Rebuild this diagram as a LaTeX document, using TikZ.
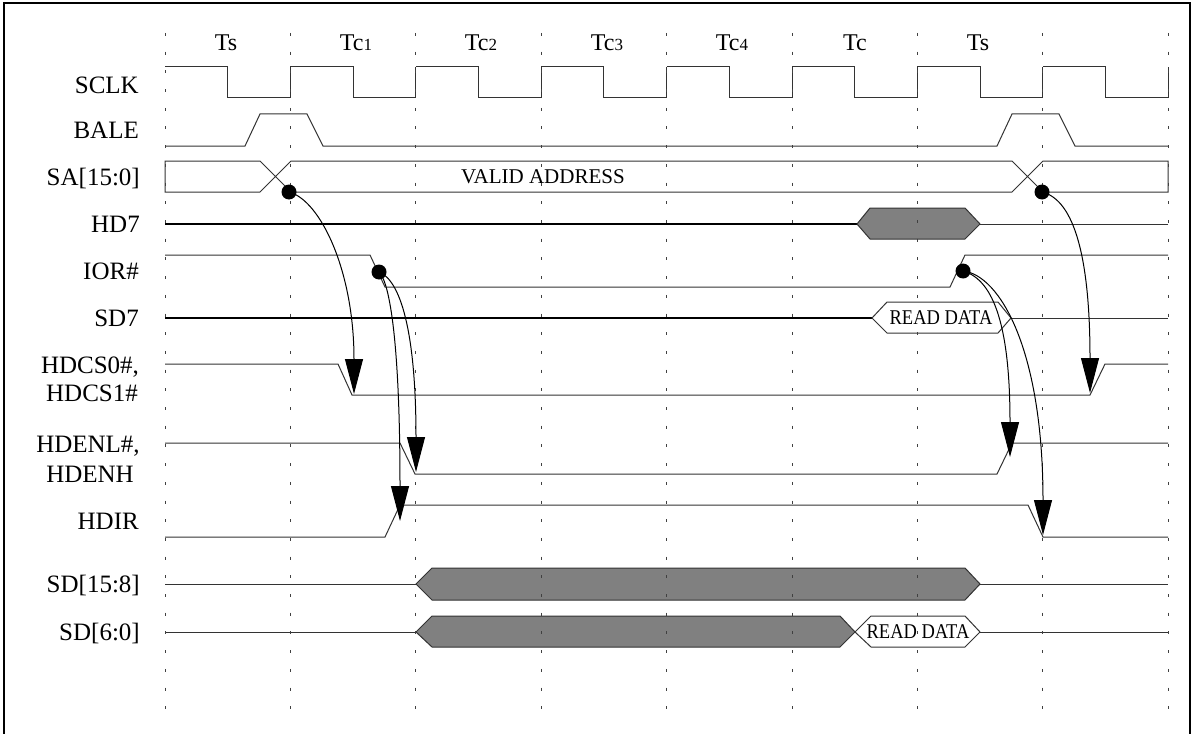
\documentclass[tikz,border=0pt]{standalone}
\usepackage{fontspec}
\setmainfont{Liberation Serif}
\usetikzlibrary{arrows.meta}
\begin{document}
\begin{tikzpicture}[x=1pt,y=-1pt,
  sig/.style={line width=1pt, draw=black!80, line join=miter},
  busthick/.style={line width=2pt, draw=black},
  gridln/.style={draw=black!75, line width=1pt, dash pattern=on 3pt off 15.7pt},
  lbl/.style={anchor=base east, font=\fontsize{25}{28}\selectfont, inner sep=0pt},
  lblc/.style={anchor=base, font=\fontsize{25}{28}\selectfont, inner sep=0pt},
  tlbl/.style={anchor=base, font=\fontsize{24}{26}\selectfont, inner sep=0pt},
  dotn/.style={circle, fill=black, inner sep=0pt, minimum size=15pt},
  arr/.style={line width=1pt, draw=black, -{Triangle[width=18pt,length=35pt]}},
  busfill/.style={fill=gray, draw=black!80, line width=1pt},
  buswhite/.style={fill=white, draw=black!80, line width=1pt},
  bustxt/.style={font=\fontsize{21}{24}\selectfont, inner sep=0pt}]
\useasboundingbox (0,0) rectangle (1193,733);
% frame
\draw[line width=2.5pt] (4,745) -- (4,3) -- (1190,3) -- (1190,745);
% time labels
\node[tlbl] (ts1) at (226,51) {Ts};
\node[tlbl] (tc1) at (356,51) {Tc{\fontsize{17}{20}\selectfont 1}};
\node[tlbl] (tc2) at (481,51) {Tc{\fontsize{17}{20}\selectfont 2}};
\node[tlbl] (tc3) at (607,51) {Tc{\fontsize{17}{20}\selectfont 3}};
\node[tlbl] (tc4) at (732,51) {Tc{\fontsize{17}{20}\selectfont 4}};
\node[tlbl] (tc) at (855,51) {Tc};
\node[tlbl] (ts2) at (978,51) {Ts};
% signal labels
\node[lbl] (lsclk) at (139,93.5) {SCLK};
\node[lbl] (lbale) at (139,138.5) {BALE};
\node[lbl] (lsa) at (140,185.5) {SA[15:0]};
\node[lbl] (lhd7) at (140,232.5) {HD7};
\node[lbl] (lior) at (139,279.5) {IOR\#};
\node[lbl] (lsd7) at (139,326.5) {SD7};
\node[lblc] (lcs0) at (90,373.5) {HDCS0\#,};
\node[lblc] (lcs1) at (92,401.5) {HDCS1\#};
\node[lblc] (len0) at (88,452) {HDENL\#,};
\node[lblc] (len1) at (90,482.5) {HDENH};
\node[lbl] (ldir) at (139,529.5) {HDIR};
\node[lbl] (lsdh) at (140,592.5) {SD[15:8]};
\node[lbl] (lsdl) at (140,640.5) {SD[6:0]};
% SCLK
\foreach \i in {0,...,7} {
  \draw[sig] ({165+125.4*\i},67) -- ++(62.7,0) -- ++(0,31) -- ++(62.7,0) -- ++(0,-31);
}
% BALE
\draw[sig] (165,146) -- (245,146) -- (260,114) -- (307,114) -- (323,146) -- (997,146)
  -- (1012,114) -- (1059,114) -- (1075,146) -- (1168,146);
% SA[15:0]
\draw[sig] (260,161) -- (165,161) -- (165,192) -- (260,192) -- (291,161) -- (1012,161)
  -- (1043,192) -- (1168,192) -- (1168,161) -- (1043,161) -- (1012,192) -- (291,192) -- cycle;
\node[bustxt] (va) at (543,177) {VALID ADDRESS};
% HD7
\draw[busthick] (165,224) -- (857,224);
\draw[busfill] (857,224) -- (870,208) -- (965,208) -- (980,224) -- (965,239) -- (870,239) -- cycle;
\draw[sig] (980,224) -- (1168,224);
% IOR#
\draw[sig] (165,255) -- (370,255) -- (385,287) -- (950,287) -- (965,255) -- (1168,255);
% SD7
\draw[busthick] (165,318) -- (872,318);
\draw[buswhite] (872,318) -- (887,302) -- (998,302) -- (1011,318) -- (998,333) -- (887,333) -- cycle;
\node[bustxt] (rd1) at (941,318) {\scalebox{0.88}[1]{READ DATA}};
\draw[sig] (1011,318) -- (1168,318);
% HDCS
\draw[sig] (165,364) -- (338,364) -- (352,395) -- (1090,395) -- (1105,364) -- (1168,364);
% HDENL
\draw[sig] (165,443) -- (400,443) -- (415,474) -- (997,474) -- (1012,443) -- (1168,443);
% HDIR
\draw[sig] (165,537) -- (385,537) -- (400,505) -- (1028,505) -- (1043,537) -- (1168,537);
% SD[15:8]
\draw[sig] (165,584) -- (416,584);
\draw[busfill] (416,584) -- (432,568) -- (965,568) -- (980,584) -- (965,600) -- (432,600) -- cycle;
\draw[sig] (980,584) -- (1168,584);
% SD[6:0]
\draw[sig] (165,632) -- (416,632);
\draw[busfill] (416,632) -- (432,616) -- (840,616) -- (855,632) -- (840,647) -- (432,647) -- cycle;
\draw[buswhite] (855,632) -- (871,616) -- (965,616) -- (980,632) -- (965,647) -- (871,647) -- cycle;
\node[bustxt] (rd2) at (918,632) {\scalebox{0.88}[1]{READ DATA}};
\draw[sig] (980,632) -- (1168,632);
% grid
\foreach \i in {0,...,8} {
  \draw[gridln] ({165+125.4*\i},33) -- ({165+125.4*\i},712);
}
% arrow targets
\coordinate (t1) at (354,394);
\coordinate (t2) at (416,472);
\coordinate (t3) at (400,521);
\coordinate (t4) at (1010,457);
\coordinate (t5) at (1043,535);
\coordinate (t6) at (1090,393);
% dots
\node[dotn] (d1) at (289,192) {};
\node[dotn] (d2) at (379,272) {};
\node[dotn] (d3) at (963,271) {};
\node[dotn] (d4) at (1042,192) {};
% arrows
\draw[arr] (d1.center) .. controls (320,200) and (354,270) .. (t1);
\draw[arr] (d2.center) .. controls (400,280) and (416,330) .. (t2);
\draw[arr] (d2.center) .. controls (388,280) and (400,330) .. (t3);
\draw[arr] (d3.center) .. controls (995,280) and (1010,330) .. (t4);
\draw[arr] (d3.center) .. controls (1000,275) and (1043,350) .. (t5);
\draw[arr] (d4.center) .. controls (1075,200) and (1090,260) .. (t6);
\end{tikzpicture}
\end{document}
